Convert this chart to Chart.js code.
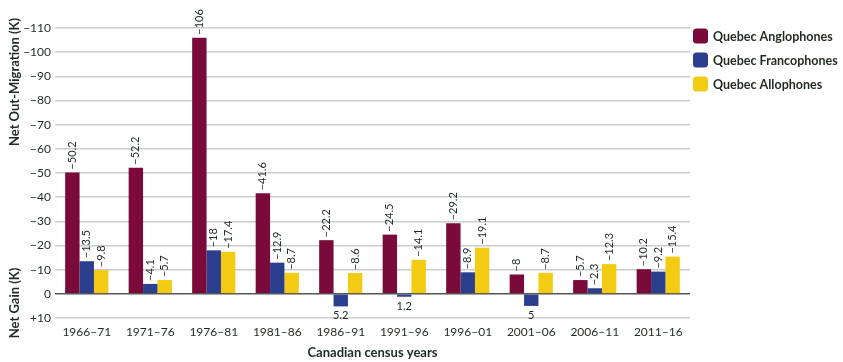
<!DOCTYPE html>
<html>
<head>
<meta charset="utf-8">
<script src="https://cdn.jsdelivr.net/npm/chart.js@4.4.1/dist/chart.umd.min.js"></script>
<style>
  html, body { margin: 0; padding: 0; background: #fff; }
  #wrap { width: 843px; height: 362px; position: relative; }
</style>
</head>
<body>
<div id="wrap"><canvas id="c" width="843" height="362"></canvas></div>
<script>
// Census periods
const periods = ['1966–71', '1971–76', '1976–81', '1981–86', '1986–91', '1991–96', '1996–01', '2001–06', '2006–11', '2011–16'];
// Net migration in thousands (negative = net out-migration, positive = net gain)
const anglophones  = [-50.2, -52.2, -106, -41.6, -22.2, -24.5, -29.2, -8, -5.7, -10.2];
const francophones = [-13.5, -4.1, -18, -12.9, 5.2, 1.2, -8.9, 5, -2.3, -9.2];
const allophones   = [-9.8, -5.7, -17.4, -8.7, -8.6, -14.1, -19.1, -8.7, -12.3, -15.4];
const seriesNames  = ['Quebec Anglophones', 'Quebec Francophones', 'Quebec Allophones'];
const seriesColors = ['#790A3A', '#2C3F8E', '#F2CB12'];

const FONT = 'Lato, "Open Sans", sans-serif';
const TEXT = '#1f2a22';

const fmt = v => {
  if (v < 0) return '\u2212' + Math.abs(v);
  if (v > 0) return '+' + v;
  return '0';
};

// Value labels: rotated above out-migration bars, horizontal below gain bars
const valueLabels = {
  id: 'valueLabels',
  afterDatasetsDraw(chart) {
    const ctx = chart.ctx;
    ctx.save();
    ctx.font = '11px ' + FONT;
    ctx.fillStyle = TEXT;
    chart.data.datasets.forEach((ds, i) => {
      const meta = chart.getDatasetMeta(i);
      meta.data.forEach((bar, j) => {
        const v = ds.data[j];
        if (v < 0) {
          const top = Math.min(bar.y, bar.base);
          ctx.save();
          ctx.translate(bar.x, top - 3);
          ctx.rotate(-Math.PI / 2);
          ctx.textAlign = 'left';
          ctx.textBaseline = 'middle';
          ctx.fillText('\u2212' + Math.abs(v), 0, 0);
          ctx.restore();
        } else {
          const bottom = Math.max(bar.y, bar.base);
          ctx.textAlign = 'center';
          ctx.textBaseline = 'top';
          ctx.fillText(String(v), bar.x, bottom + 4);
        }
      });
    });
    ctx.restore();
  }
};

// Split y-axis titles and a side legend with rounded swatches
const extras = {
  id: 'extras',
  afterDraw(chart) {
    const ctx = chart.ctx;
    ctx.save();
    ctx.fillStyle = TEXT;
    ctx.font = 'bold 13px ' + FONT;
    ctx.textAlign = 'center';
    ctx.textBaseline = 'middle';
    [['Net Out-Migration (K)', 82], ['Net Gain (K)', 303]].forEach(([t, y]) => {
      ctx.save();
      ctx.translate(15, y);
      ctx.rotate(-Math.PI / 2);
      ctx.fillText(t, 0, 0);
      ctx.restore();
    });

    ctx.font = 'bold 12.5px ' + FONT;
    ctx.textAlign = 'left';
    chart.data.datasets.forEach((ds, i) => {
      const cy = 36 + i * 24;
      ctx.fillStyle = ds.backgroundColor;
      ctx.beginPath();
      ctx.roundRect(693, cy - 7.5, 15, 15, 3.5);
      ctx.fill();
      ctx.fillStyle = TEXT;
      ctx.fillText(ds.label, 713, cy + 0.5);
    });
    ctx.restore();
  }
};

const datasets = [anglophones, francophones, allophones].map((d, i) => ({
  label: seriesNames[i],
  data: d,
  backgroundColor: seriesColors[i],
  borderWidth: 0,
  categoryPercentage: 0.68,
  barPercentage: 1.0
}));

new Chart(document.getElementById('c'), {
  type: 'bar',
  data: { labels: periods, datasets },
  options: {
    responsive: false,
    animation: false,
    layout: { padding: { left: 0, right: 153, top: 28, bottom: 0 } },
    plugins: {
      legend: { display: false },
      tooltip: { enabled: false }
    },
    scales: {
      x: {
        grid: { display: false, drawTicks: false },
        border: { display: false },
        ticks: { color: TEXT, font: { family: FONT, size: 12 }, padding: 7, maxRotation: 0 },
        title: {
          display: true,
          text: 'Canadian census years',
          color: TEXT,
          font: { family: FONT, size: 13, weight: 'bold' },
          padding: { top: 0, bottom: 1 }
        },
        afterFit(s) { s.height = 44; }
      },
      y: {
        reverse: true,
        min: -110,
        max: 10,
        grid: {
          drawTicks: false,
          color: c => (c.tick && c.tick.value === 0 ? '#555555' : '#cccccc'),
          lineWidth: c => (c.tick && c.tick.value === 0 ? 1.5 : 1.5)
        },
        border: { display: false },
        ticks: {
          stepSize: 10,
          color: TEXT,
          font: { family: FONT, size: 12 },
          padding: 4,
          callback: v => fmt(v)
        },
        afterFit(s) { s.width = 55; }
      }
    }
  },
  plugins: [valueLabels, extras]
});
</script>
</body>
</html>
